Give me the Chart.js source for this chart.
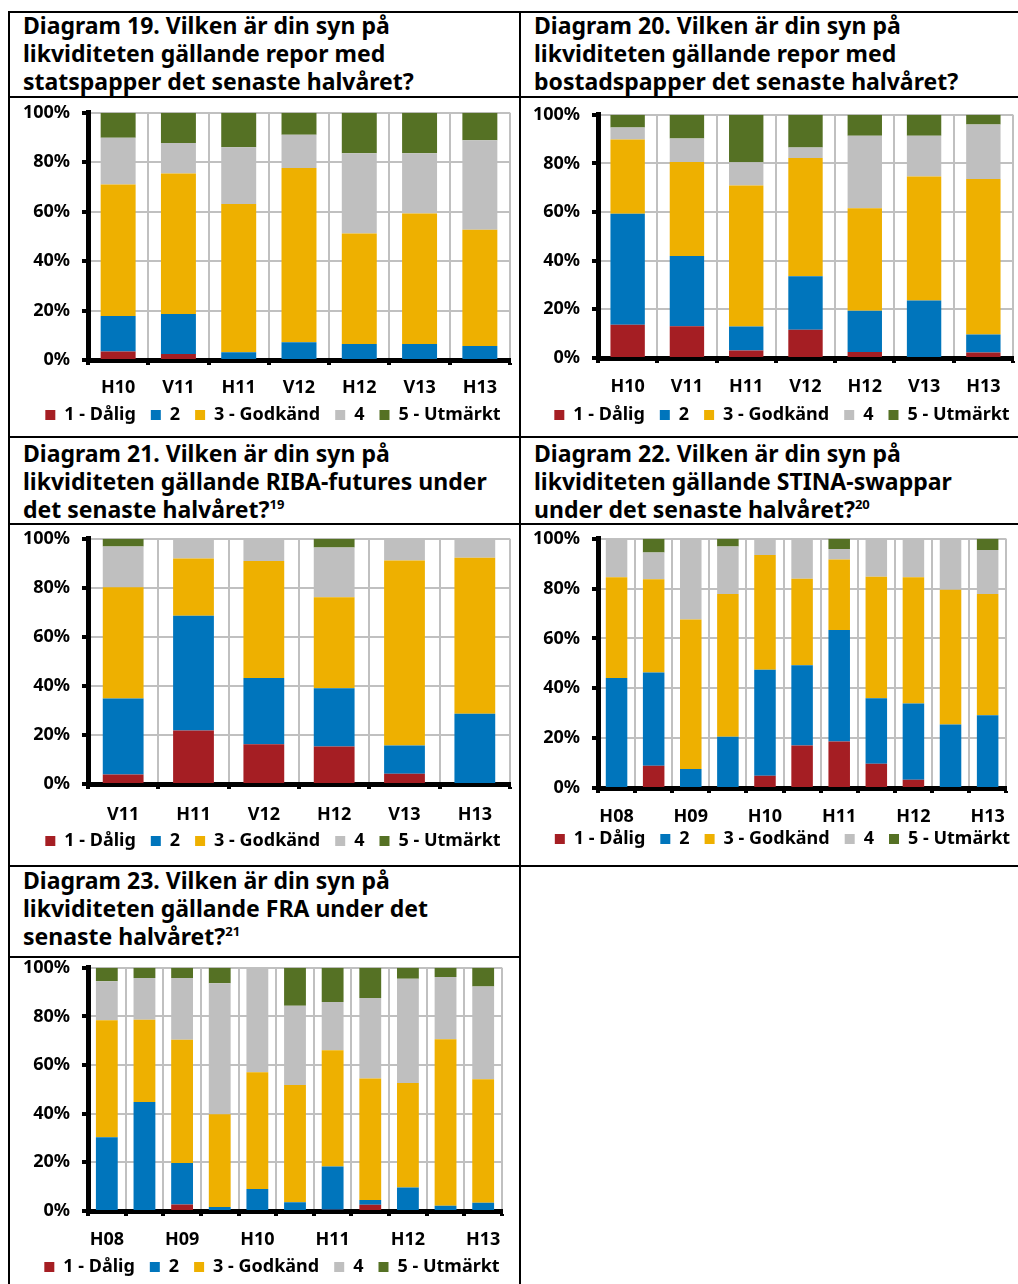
<!DOCTYPE html>
<html>
<head>
<meta charset="utf-8">
<script src="https://cdn.jsdelivr.net/npm/chart.js@4.4.0/dist/chart.umd.min.js"></script>
<style>
body{margin:0;background:#fff;width:1018px;height:1284px;position:relative;overflow:hidden;font-family:"Noto Sans",sans-serif;}
.h{position:absolute;height:2px;background:#000;}
.v{position:absolute;width:2px;background:#000;}
.t{position:absolute;font-weight:bold;font-size:23px;line-height:28px;color:#000;white-space:nowrap;}
.t sup{font-size:13px;line-height:0;vertical-align:9px;}
canvas{position:absolute;}
</style>
</head>
<body>
<div class="h" style="left:8px;top:11px;width:1010px"></div>
<div class="h" style="left:8px;top:96px;width:1010px"></div>
<div class="h" style="left:8px;top:436px;width:1010px"></div>
<div class="h" style="left:8px;top:523px;width:1010px"></div>
<div class="h" style="left:8px;top:865px;width:1010px"></div>
<div class="h" style="left:8px;top:956px;width:512px"></div>
<div class="v" style="left:8px;top:11px;height:1273px"></div>
<div class="v" style="left:519px;top:11px;height:1273px"></div>

<div class="t" style="left:23px;top:11px">Diagram 19. Vilken är din syn på<br>likviditeten gällande repor med<br>statspapper det senaste halvåret?</div>
<div class="t" style="left:534px;top:11px">Diagram 20. Vilken är din syn på<br>likviditeten gällande repor med<br>bostadspapper det senaste halvåret?</div>
<div class="t" style="left:23px;top:439px">Diagram 21. Vilken är din syn på<br>likviditeten gällande RIBA-futures under<br>det senaste halvåret?<sup>19</sup></div>
<div class="t" style="left:534px;top:439px">Diagram 22. Vilken är din syn på<br>likviditeten gällande STINA-swappar<br>under det senaste halvåret?<sup>20</sup></div>
<div class="t" style="left:23px;top:866px">Diagram 23. Vilken är din syn på<br>likviditeten gällande FRA under det<br>senaste halvåret?<sup>21</sup></div>

<canvas id="c19" width="508" height="352" style="left:10px;top:90px"></canvas>
<canvas id="c20" width="497" height="349" style="left:521px;top:92px"></canvas>
<canvas id="c21" width="508" height="353" style="left:10px;top:516px"></canvas>
<canvas id="c22" width="497" height="355" style="left:521px;top:516px"></canvas>
<canvas id="c23" width="508" height="349" style="left:10px;top:945px"></canvas>

<script>
// svarsalternativ och färger
var seriesNames = ["1 - Dålig", "2", "3 - Godkänd", "4", "5 - Utmärkt"];
var seriesColors = ["#a51e23", "#0075bc", "#eeb000", "#bfbfbf", "#557124"];

// Diagram 19 - repor med statspapper
var cat19 = ["H10", "V11", "H11", "V12", "H12", "V13", "H13"];
var d19s1 = [3.4, 2.4, 0, 0, 0, 0, 0];
var d19s2 = [14.4, 16.2, 3.1, 7.2, 6.5, 6.5, 5.7];
var d19s3 = [53.2, 56.8, 60, 70.5, 44.7, 52.8, 47];
var d19s4 = [18.9, 12.4, 23, 13.4, 32.4, 24.3, 36.2];
var d19s5 = [10.1, 12.2, 13.9, 8.9, 16.4, 16.4, 11.1];

// Diagram 20 - repor med bostadspapper
var cat20 = ["H10", "V11", "H11", "V12", "H12", "V13", "H13"];
var d20s1 = [13.7, 13.1, 3.1, 11.6, 2.5, 0, 2.3];
var d20s2 = [45.6, 28.8, 9.9, 22, 16.9, 23.6, 7.4];
var d20s3 = [30.5, 38.7, 57.9, 48.6, 42.2, 51, 63.9];
var d20s4 = [5, 9.7, 9.6, 4.4, 29.8, 16.8, 22.4];
var d20s5 = [5.2, 9.7, 19.5, 13.4, 8.6, 8.6, 4];

// Diagram 21 - RIBA-futures
var cat21 = ["V11", "H11", "V12", "H12", "V13", "H13"];
var d21s1 = [3.9, 21.8, 16.2, 15.3, 4.2, 0];
var d21s2 = [31, 46.8, 27, 23.7, 11.5, 28.6];
var d21s3 = [45.3, 23.4, 47.7, 37.2, 75.5, 63.7];
var d21s4 = [16.7, 8, 9.1, 20.3, 8.8, 7.7];
var d21s5 = [3.1, 0, 0, 3.5, 0, 0];

// Diagram 22 - STINA-swappar
var cat22 = ["H08", "V09", "H09", "V10", "H10", "V11", "H11", "V12", "H12", "V13", "H13"];
var d22s1 = [0, 8.9, 0, 0, 4.9, 17.1, 18.7, 9.7, 3.3, 0, 0];
var d22s2 = [44.1, 37.4, 7.6, 20.6, 42.6, 32.2, 44.7, 26.3, 30.6, 25.5, 29.2];
var d22s3 = [40.5, 37.5, 60, 57.2, 46, 34.7, 28.3, 48.8, 50.7, 54.1, 48.6];
var d22s4 = [15.4, 10.7, 32.4, 19.1, 6.5, 16, 4.2, 15.2, 15.4, 20.4, 17.7];
var d22s5 = [0, 5.5, 0, 3.1, 0, 0, 4.1, 0, 0, 0, 4.5];

// Diagram 23 - FRA
var cat23 = ["H08", "V09", "H09", "V10", "H10", "V11", "H11", "V12", "H12", "V13", "H13"];
var d23s1 = [0, 0, 2.7, 0, 0, 0, 0.5, 2.6, 0, 0, 0];
var d23s2 = [30.3, 44.8, 17, 1.6, 9, 3.6, 17.8, 1.9, 9.7, 2.2, 3.4];
var d23s3 = [48.1, 33.8, 50.7, 38.2, 48.1, 48.2, 47.8, 50, 42.9, 68.4, 50.8];
var d23s4 = [16.1, 17.2, 25.4, 53.8, 42.9, 32.6, 19.8, 33.1, 42.9, 25.6, 38.1];
var d23s5 = [5.5, 4.2, 4.2, 6.4, 0, 15.6, 14.1, 12.4, 4.5, 3.8, 7.7];

var yTicks = [0, 20, 40, 60, 80, 100];

Chart.defaults.font.family = "'Noto Sans', sans-serif";
Chart.defaults.color = "#000";

function drawChart(id, labels, series, box) {
	var font = {size: 18, weight: "bold"};
	new Chart(document.getElementById(id).getContext("2d"), {
		type: "bar",
		data: {
			labels: labels,
			datasets: series.map(function(vals, i) {
				return {
					label: seriesNames[i],
					data: vals,
					backgroundColor: seriesColors[i],
					borderWidth: 0,
					barPercentage: 0.58,
					categoryPercentage: 1
				};
			})
		},
		options: {
			responsive: false,
			animation: false,
			layout: {padding: {top: 0, right: box.pr, bottom: 0, left: 0}},
			plugins: {
				legend: {
					position: "bottom",
					labels: {boxWidth: 10, boxHeight: 10, padding: 15, color: "#000", font: font}
				},
				tooltip: {enabled: false}
			},
			scales: {
				x: {
					stacked: true,
					grid: {color: "#c0c0c0", lineWidth: 2, tickColor: "#000", tickWidth: 4, tickLength: 5, offset: true},
					border: {color: "#000", width: 5},
					ticks: {
						color: "#000", font: font, padding: box.xp, maxRotation: 0, autoSkip: false,
						callback: function(v, i) { return i % box.step === 0 ? labels[i] : ""; }
					},
					afterFit: function(s) { s.height = 5 + box.xp + 22; }
				},
				y: {
					stacked: true,
					min: 0,
					max: 100,
					afterBuildTicks: function(s) { s.ticks = yTicks.map(function(v) { return {value: v}; }); },
					ticks: {color: "#000", font: font, padding: 12, callback: function(v) { return v + "%"; }},
					grid: {color: "#c0c0c0", lineWidth: 2, tickColor: "#000", tickWidth: 4, tickLength: 6},
					border: {color: "#000", width: 5},
					afterFit: function(s) { s.width = box.yw; }
				}
			}
		},
		plugins: [{
			id: "legendShift",
			afterLayout: function(chart) {
				chart.legend.top += box.ls;
				chart.legend.bottom += box.ls;
				chart.legend.left += box.lx;
				chart.legend.right += box.lx;
			}
		}]
	});
}

drawChart("c19", cat19, [d19s1, d19s2, d19s3, d19s4, d19s5], {yw: 78, pr: 8, xp: 12, ls: -8, lx: 13, step: 1});
drawChart("c20", cat20, [d20s1, d20s2, d20s3, d20s4, d20s5], {yw: 77, pr: 5, xp: 13, ls: -7, lx: 15, step: 1});
drawChart("c21", cat21, [d21s1, d21s2, d21s3, d21s4, d21s5], {yw: 78, pr: 8, xp: 15, ls: -9, lx: 13, step: 1});
drawChart("c22", cat22, [d22s1, d22s2, d22s3, d22s4, d22s5], {yw: 77, pr: 4, xp: 13, ls: -13, lx: 15, step: 2});
drawChart("c23", cat23, [d23s1, d23s2, d23s3, d23s4, d23s5], {yw: 78, pr: 16, xp: 13, ls: -8, lx: 16, step: 2});
</script>
</body>
</html>
